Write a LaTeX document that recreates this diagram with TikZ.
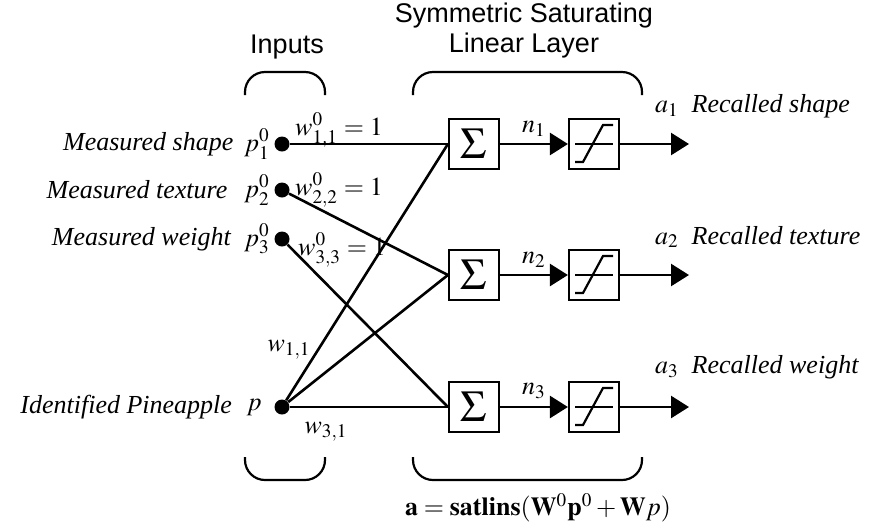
\documentclass[tikz,border=0pt]{standalone}
\usepackage{mathptmx}
\usepackage{fontspec}
\setmainfont{Liberation Serif}
\newfontfamily\arial{Liberation Sans}
\usetikzlibrary{positioning,arrows.meta}

\tikzset{
  dot/.style={circle, fill=black, inner sep=0pt, minimum size=7.5pt},
  sumbox/.style={draw, line width=1.1pt, minimum size=25pt, inner sep=0pt, font=\fontsize{22}{22}\selectfont},
  satbox/.style={draw, line width=1.1pt, minimum size=25pt, inner sep=0pt,
    path picture={
      \draw[line width=1pt] ([xshift=3pt]path picture bounding box.west) -- ([xshift=-3pt]path picture bounding box.east);
      \draw[line width=1.1pt] ([shift={(-9.5pt,-9pt)}]path picture bounding box.center) -- ++(4pt,0pt) -- ++(10pt,18.5pt) -- ++(5pt,0pt);
    }},
  conn/.style={line width=1.3pt},
  arr/.style={line width=1.3pt, -{Triangle[length=9pt,width=11pt]}},
  brace/.style={line width=1.1pt, rounded corners=10pt},
  ttl/.style={font=\arial\fontsize{13.5}{15}\selectfont, align=center},
}

\begin{document}
\begin{tikzpicture}[x=0.5pt, y=-0.5pt, font=\fontsize{13}{15}\selectfont]
  \useasboundingbox (0,0) rectangle (872,526);

  \node[ttl] (inp) at (287,47) {Inputs};
  \node[ttl] (lay) at (524,31) {Symmetric Saturating\\Linear Layer};
  \draw[brace] (245,95) -- (245,72) -- (325,72) -- (325,95);
  \draw[brace] (413,95) -- (413,72) -- (642,72) -- (642,95);
  \draw[brace] (245,457) -- (245,480) -- (325,480) -- (325,457);
  \draw[brace] (413,457) -- (413,480) -- (642,480) -- (642,457);

  \node[dot] (p1) at (282,144) {};
  \node[dot] (p2) at (282,190) {};
  \node[dot] (p3) at (282,239) {};
  \node[dot] (p) at (282,407) {};
  \node[left=1pt of p1, inner sep=1pt] (p1lab) {$p^0_1$};
  \node[left=1pt of p2, inner sep=1pt] (p2lab) {$p^0_2$};
  \node[left=1pt of p3, inner sep=1pt] (p3lab) {$p^0_3$};
  \node[left=5pt of p, inner sep=1pt] (plab) {$p$};
  \node[left=3pt of p1lab, inner sep=1pt] (p1txt) {\textit{Measured shape}};
  \node[left=6pt of p2lab, inner sep=1pt] (p2txt) {\textit{Measured texture}};
  \node[left=4pt of p3lab, inner sep=1pt] (p3txt) {\textit{Measured weight}};
  \node[left=5pt of plab, inner sep=1pt] (ptxt) {\textit{Identified Pineapple}};

  \node[sumbox] (s1) at (474,144) {$\Sigma$};
  \node[sumbox] (s2) at (474,275) {$\Sigma$};
  \node[sumbox] (s3) at (474,407) {$\Sigma$};
  \node[satbox] (f1) at (594,144) {};
  \node[satbox] (f2) at (594,275) {};
  \node[satbox] (f3) at (594,407) {};
  \coordinate (o1) at (689,144);
  \coordinate (o2) at (689,275);
  \coordinate (o3) at (689,407);

  \draw[conn] (p1) -- (s1.west);
  \draw[conn] (p2) -- (s2.west);
  \draw[conn] (p3) -- (s3.west);
  \draw[conn] (p) -- (s1.west);
  \draw[conn] (p) -- (s2.west);
  \draw[conn] (p) -- (s3.west);

  \node (w11) at (339,130) {$w^0_{1,1} = 1$};
  \node (w22) at (339,190) {$w^0_{2,2} = 1$};
  \node (w33) at (342,250) {$w^0_{3,3} = 1$};
  \node (w1) at (289,350) {$w_{1,1}$};
  \node (w3) at (326,432) {$w_{3,1}$};

  \draw[arr] (s1) -- node[above] (n1) {$n_1$} (f1);
  \draw[arr] (s2) -- node[above] (n2) {$n_2$} (f2);
  \draw[arr] (s3) -- node[above] (n3) {$n_3$} (f3);
  \draw[arr] (f1) -- (o1);
  \draw[arr] (f2) -- (o2);
  \draw[arr] (f3) -- (o3);

  \node[anchor=west] (a1) at (648,106) {$a_1$\ \ \textit{Recalled shape}};
  \node[anchor=west] (a2) at (648,237) {$a_2$\ \ \textit{Recalled texture}};
  \node[anchor=west] (a3) at (648,367) {$a_3$\ \ \textit{Recalled weight}};

  \node (eq) at (538,508) {$\mathbf{a} = \mathbf{satlins}(\mathbf{W}^0\mathbf{p}^0+\mathbf{W}p)$};
\end{tikzpicture}
\end{document}
